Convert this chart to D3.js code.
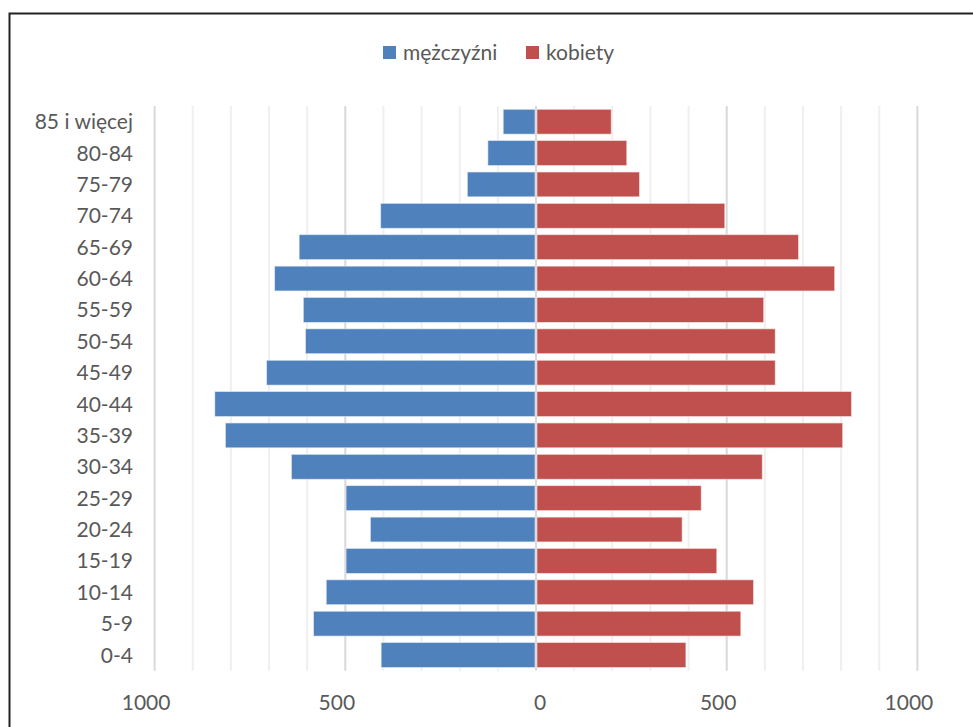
<!DOCTYPE html>
<html>
<head>
<meta charset="utf-8">
<script src="https://cdn.jsdelivr.net/npm/d3@7"></script>
<style>
  body { margin: 0; background: #fff; }
  svg text { font-family: Lato, "Open Sans", sans-serif; fill: #595959; }
</style>
</head>
<body>
<svg id="chart" width="973" height="727"></svg>
<script>
// age groups, top to bottom
const ageGroups = ["85 i więcej", "80-84", "75-79", "70-74", "65-69", "60-64", "55-59", "50-54",
  "45-49", "40-44", "35-39", "30-34", "25-29", "20-24", "15-19", "10-14", "5-9", "0-4"]
const men =   [86, 126, 180, 407, 621, 685, 610, 604, 706, 842, 814, 641, 498, 434, 498, 550, 583, 406]
const women = [197, 238, 271, 495, 688, 783, 597, 627, 627, 827, 804, 593, 433, 383, 474, 570, 537, 393]
const seriesNames = ["mężczyźni", "kobiety"]
const seriesColors = ["#4F81BD", "#C0504D"]
const tickValues = [-1000, -500, 0, 500, 1000]

const svg = d3.select("#chart")

// chart frame (runs off the right and bottom of the picture)
svg.append("rect")
  .attr("x", 9.5).attr("y", 13.5)
  .attr("width", 1000).attr("height", 800)
  .attr("fill", "none")
  .attr("stroke", "#222")
  .attr("stroke-width", 2)

const x = d3.scaleLinear().domain([-1000, 1000]).range([154.6, 917.4])
const y = d3.scaleBand().domain(ageGroups).range([106, 670.7]).paddingInner(0.21).paddingOuter(0.105)

// grid lines every 100
const grid = svg.append("g")
grid.selectAll("line")
  .data(d3.range(-1000, 1001, 100))
  .join("line")
    .attr("x1", d => x(d)).attr("x2", d => x(d))
    .attr("y1", 106).attr("y2", 670.7)
    .attr("stroke", d => d % 500 == 0 ? "#d9d9d9" : "#efefef")
    .attr("stroke-width", 2)

// men to the left
svg.append("g")
  .selectAll("rect")
  .data(men)
  .join("rect")
    .attr("x", d => x(-d))
    .attr("y", (d, i) => y(ageGroups[i]))
    .attr("width", d => x(0) - x(-d) - 1)
    .attr("height", y.bandwidth())
    .attr("fill", seriesColors[0])
    .attr("stroke", "#dbe5f1")
    .attr("stroke-width", 0.6)

// women to the right
svg.append("g")
  .selectAll("rect")
  .data(women)
  .join("rect")
    .attr("x", x(0) + 1)
    .attr("y", (d, i) => y(ageGroups[i]))
    .attr("width", d => x(d) - x(0) - 1)
    .attr("height", y.bandwidth())
    .attr("fill", seriesColors[1])
    .attr("stroke", "#f2dcdb")
    .attr("stroke-width", 0.6)

// category labels
const yAxis = svg.append("g")
  .attr("transform", "translate(133,0)")
  .call(d3.axisLeft(y).tickSize(0).tickPadding(0))
yAxis.select(".domain").remove()
yAxis.selectAll("text")
  .attr("fill", "#595959")
  .style("font-size", "21px")
  .attr("dy", "0.36em")

// value axis: absolute numbers on both sides
const xAxis = svg.append("g")
  .attr("transform", "translate(0,690)")
  .call(d3.axisBottom(x).tickValues(tickValues).tickSize(0).tickFormat(d => Math.abs(d)))
xAxis.select(".domain").remove()
xAxis.selectAll("text")
  .attr("fill", "#595959")
  .style("font-size", "21px")
  .attr("dy", 16.5)
  .attr("dx", d => d == 0 ? 3.5 : -9)

// legend
const legend = svg.append("g")
const legendX = [383, 526]
seriesNames.forEach((name, i) => {
  legend.append("rect")
    .attr("x", legendX[i]).attr("y", 46)
    .attr("width", 13).attr("height", 13)
    .attr("fill", seriesColors[i])
  legend.append("text")
    .attr("x", legendX[i] + 20).attr("y", 53)
    .attr("dy", "0.35em")
    .style("font-size", "21px")
    .text(name)
})
</script>
</body>
</html>
